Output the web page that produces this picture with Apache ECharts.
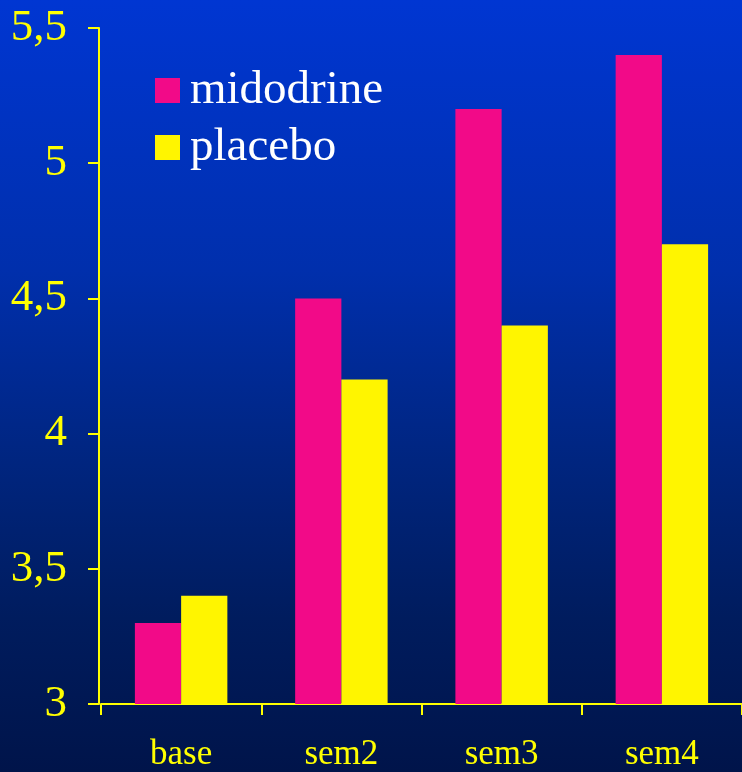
<!DOCTYPE html>
<html>
<head>
<meta charset="utf-8">
<script src="https://cdn.jsdelivr.net/npm/echarts@6/dist/echarts.min.js"></script>
<style>
  html, body { margin: 0; padding: 0; }
  body {
    width: 742px; height: 772px; overflow: hidden;
    background: linear-gradient(to bottom, #0036D2 0%, #002FAC 35%, #00257F 60%, #001C5E 80%, #00144A 100%);
  }
  #chart { width: 742px; height: 772px; }
</style>
</head>
<body>
<div id="chart"></div>
<script>
// Weekly measurements, midodrine vs placebo
const categories = ['base', 'sem2', 'sem3', 'sem4'];
const midodrine = [3.3, 4.5, 5.2, 5.4];
const placebo = [3.4, 4.2, 4.4, 4.7];
const yTicks = [3, 3.5, 4, 4.5, 5, 5.5];

const serif = '"Liberation Serif", "Times New Roman", serif';
const yellow = '#FFFF00';

const chart = echarts.init(document.getElementById('chart'), null, { renderer: 'canvas' });

chart.setOption({
  backgroundColor: 'transparent',
  animation: false,
  legend: {
    orient: 'vertical',
    left: 155,
    top: 67,
    padding: 0,
    icon: 'rect',
    itemWidth: 25,
    itemHeight: 25,
    itemGap: 10,
    textStyle: { color: '#FFFFFF', fontFamily: serif, fontSize: 47, lineHeight: 46, padding: [0, 0, 0, 5] },
    data: ['midodrine', 'placebo']
  },
  grid: { left: 101, top: 28, width: 645, height: 678, containLabel: false },
  xAxis: {
    type: 'category',
    data: categories,
    axisLine: { lineStyle: { color: yellow, width: 2 } },
    axisTick: { show: true, length: 11, lineStyle: { color: yellow, width: 2 } },
    axisLabel: { color: yellow, fontFamily: serif, fontSize: 35, margin: 33 }
  },
  yAxis: {
    type: 'value',
    offset: 2,
    min: yTicks[0],
    max: yTicks[yTicks.length - 1],
    interval: 0.5,
    splitLine: { show: false },
    axisLine: { show: true, lineStyle: { color: yellow, width: 2 } },
    axisTick: { show: true, length: 11, lineStyle: { color: yellow, width: 2 } },
    axisLabel: {
      color: yellow, fontFamily: serif, fontSize: 45, margin: 32,
      formatter: v => String(v).replace('.', ',')
    }
  },
  series: [
    {
      name: 'midodrine', type: 'bar', data: midodrine,
      itemStyle: { color: '#F20A88' },
      barGap: '0%', barCategoryGap: '42.3%'
    },
    {
      name: 'placebo', type: 'bar', data: placebo,
      itemStyle: { color: '#FFF500' },
      barGap: '0%', barCategoryGap: '42.3%'
    }
  ]
});
</script>
</body>
</html>
